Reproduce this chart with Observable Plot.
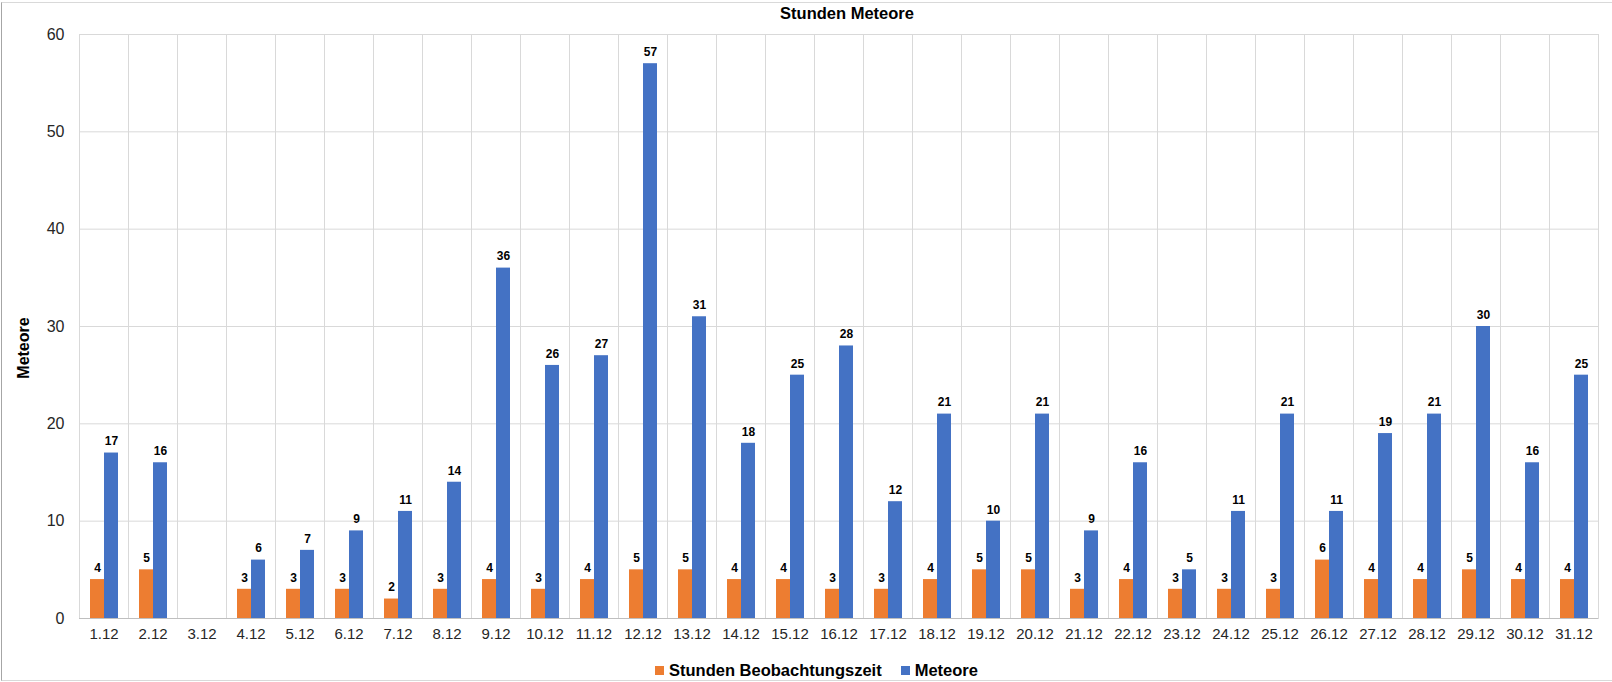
<!DOCTYPE html>
<html><head><meta charset="utf-8">
<script src="https://cdn.jsdelivr.net/npm/d3@7"></script>
<script src="https://cdn.jsdelivr.net/npm/@observablehq/plot@0.6"></script>
<style>
body{margin:0;background:#fff;font-family:"Liberation Sans",Arial,sans-serif;}
#wrap{position:relative;width:1612px;height:682px;overflow:hidden;background:#fff;}
#frame{position:absolute;left:1px;top:2px;width:1700px;height:677px;border:1px solid #d9d9d9;border-left-color:#a6a6a6;pointer-events:none;}
#chart{position:absolute;left:0;top:0;}
#title{position:absolute;top:4px;left:747px;width:200px;text-align:center;font-weight:bold;font-size:16.5px;color:#000;line-height:19px;}
#ylab{position:absolute;left:24px;top:348px;transform:translate(-50%,-50%) rotate(-90deg);font-weight:bold;font-size:16px;color:#000;white-space:nowrap;}
#legend{position:absolute;left:655px;top:660px;display:flex;align-items:center;font-weight:bold;font-size:16.5px;color:#000;line-height:20px;}
.sw{display:inline-block;width:9px;height:9px;margin-right:5px;}
.item{display:flex;align-items:center;margin-right:19px;}
</style></head>
<body>
<div id="wrap">
  <div id="chart"></div>
  <div id="frame"></div>
  <div id="title">Stunden Meteore</div>
  <div id="ylab">Meteore</div>
  <div id="legend"></div>
</div>
<script>
const days = ["1.12","2.12","3.12","4.12","5.12","6.12","7.12","8.12","9.12","10.12","11.12","12.12","13.12","14.12","15.12","16.12","17.12","18.12","19.12","20.12","21.12","22.12","23.12","24.12","25.12","26.12","27.12","28.12","29.12","30.12","31.12"];
const stunden = [4,5,null,3,3,3,2,3,4,3,4,5,5,4,4,3,3,4,5,5,3,4,3,3,3,6,4,4,5,4,4];
const meteore = [17,16,null,6,7,9,11,14,36,26,27,57,31,18,25,28,12,21,10,21,9,16,5,11,21,11,19,21,30,16,25];
const series = ["Stunden Beobachtungszeit","Meteore"];
const colors = ["#ED7D31","#4472C4"];
const yTicks = [0,10,20,30,40,50,60];

const values = [stunden, meteore];
const rows = [];
days.forEach((d, i) => {
  series.forEach((s, j) => {
    const v = values[j][i];
    if (v != null) rows.push({day: d, series: s, value: v});
  });
});

const chart = Plot.plot({
  width: 1612,
  height: 682,
  marginLeft: 72,
  marginRight: 7,
  marginTop: 34,
  marginBottom: 64,
  style: {fontFamily: '"Liberation Sans", Arial, sans-serif', fontSize: "15px", color: "#262626", background: "transparent"},
  fx: {domain: days, padding: 0, label: null},
  x: {domain: series, paddingInner: 0, paddingOuter: 0.68, axis: null},
  y: {domain: [0, 60], label: null, axis: null},
  color: {domain: series, range: colors},
  marks: [
    Plot.gridY(yTicks.slice(1), {stroke: "#d9d9d9", strokeOpacity: 1}),
    Plot.frame({anchor: "left", stroke: "#d9d9d9", strokeOpacity: 1}),
    Plot.frame({anchor: "right", stroke: "#d9d9d9", strokeOpacity: 1}),
    Plot.barY(rows, {fx: "day", x: "series", y: "value", fill: "series"}),
    Plot.ruleY(days, {fx: d => d, y: 0, stroke: "#bfbfbf"}),
    Plot.text(rows, {fx: "day", x: "series", y: "value", text: "value", dy: -11.5, fontWeight: "bold", fontSize: 12, fill: "#000"}),
    Plot.axisY(yTicks, {anchor: "left", tickSize: 0, tickPadding: 15, fontSize: 16, fill: "#262626", label: null}),
    Plot.axisFx({anchor: "bottom", tickSize: 0, tickPadding: 10, fontSize: 15, fill: "#262626", label: null})
  ]
});
document.getElementById("chart").appendChild(chart);

const legend = document.getElementById("legend");
series.forEach((s, j) => {
  const it = document.createElement("div");
  it.className = "item";
  const sw = document.createElement("span");
  sw.className = "sw";
  sw.style.background = colors[j];
  it.appendChild(sw);
  it.appendChild(document.createTextNode(s));
  legend.appendChild(it);
});
</script>
</body></html>
